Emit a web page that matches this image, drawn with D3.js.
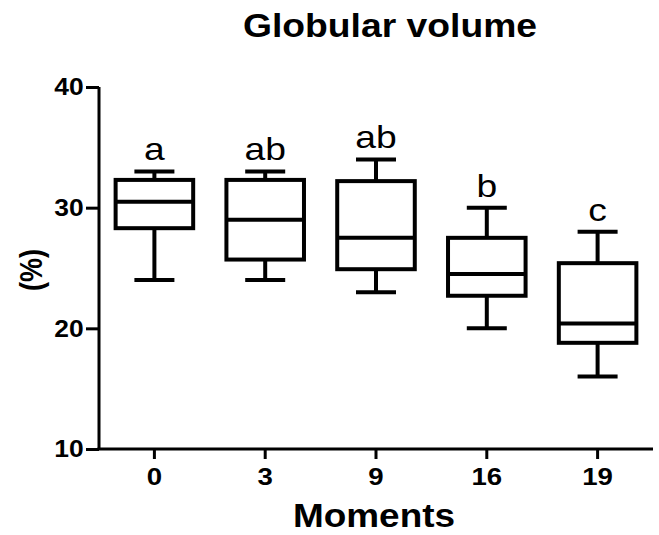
<!DOCTYPE html>
<html><head><meta charset="utf-8">
<script src="https://cdn.jsdelivr.net/npm/d3@7"></script>
<style>body{margin:0;background:#fff}svg{display:block}text{font-family:"Liberation Sans",Arial,sans-serif;fill:#000}</style>
</head><body><svg id="c" width="659" height="535"></svg>
<script>
const categories = ["0","3","9","16","19"];
const mins    = [24, 24, 23, 20, 16];
const q1s     = [28.3, 25.7, 24.9, 22.7, 18.8];
const medians = [30.5, 29.0, 27.5, 24.5, 20.4];
const q3s     = [32.3, 32.3, 32.2, 27.5, 25.4];
const maxs    = [33, 33, 34, 30, 28];
const letters = ["a","ab","ab","b","c"];
const yTicks  = [10, 20, 30, 40];

const svg = d3.select("#c");
const W = 659, H = 535;
const m = {left: 99, right: 6, top: 87, bottom: 86};
const x = d3.scaleBand().domain(categories).range([m.left, W - m.right]);
const y = d3.scaleLinear().domain([10, 40]).range([H - m.bottom, m.top]);

const data = categories.map((c, i) => ({c, min: mins[i], q1: q1s[i], med: medians[i], q3: q3s[i], max: maxs[i], l: letters[i]}));

// axes
const yAxis = svg.append("g").attr("transform", `translate(${m.left},0)`)
  .call(d3.axisLeft(y).tickValues(yTicks).tickSize(13).tickPadding(3).tickSizeOuter(0));
const xAxis = svg.append("g").attr("transform", `translate(0,${H - m.bottom})`)
  .call(d3.axisBottom(x).tickSize(10).tickPadding(8).tickSizeOuter(0));
[yAxis, xAxis].forEach(g => {
  g.select(".domain").attr("stroke", "#000").attr("stroke-width", 3);
  g.selectAll(".tick line").attr("stroke", "#000").attr("stroke-width", 3);
  g.selectAll(".tick text").attr("font-size", 24).attr("font-weight", "bold")
    .attr("font-family", '"Liberation Sans",Arial,sans-serif').attr("fill", "#000");
});
xAxis.select(".domain").attr("d", `M${m.left - 1.5},0H${W - m.right}`);
yAxis.select(".domain").attr("d", `M0,${H - m.bottom}V${m.top}`);
xAxis.selectAll(".tick text").attr("y", 36).attr("dy", null).attr("transform", "scale(1.15,1)");
yAxis.selectAll(".tick text").attr("x", -14).attr("transform", "scale(1.1,1)");

// boxes
const bw = x.bandwidth() * 0.7, cw = 40;
const g = svg.append("g").attr("stroke", "#000").attr("stroke-width", 4).attr("fill", "none");
data.forEach(d => {
  const cx = x(d.c) + x.bandwidth() / 2;
  g.append("line").attr("x1", cx).attr("x2", cx).attr("y1", y(d.max)).attr("y2", y(d.q3));
  g.append("line").attr("x1", cx).attr("x2", cx).attr("y1", y(d.q1)).attr("y2", y(d.min));
  g.append("line").attr("x1", cx - cw/2).attr("x2", cx + cw/2).attr("y1", y(d.max)).attr("y2", y(d.max));
  g.append("line").attr("x1", cx - cw/2).attr("x2", cx + cw/2).attr("y1", y(d.min)).attr("y2", y(d.min));
  g.append("rect").attr("x", cx - bw/2).attr("y", y(d.q3)).attr("width", bw).attr("height", y(d.q1) - y(d.q3));
  g.append("line").attr("x1", cx - bw/2).attr("x2", cx + bw/2).attr("y1", y(d.med)).attr("y2", y(d.med));
  svg.append("text").attr("transform", `translate(${cx},${y(d.max) - 11}) scale(1.2,1)`)
    .attr("text-anchor", "middle").attr("font-size", 31).text(d.l);
});

// titles
svg.append("text").attr("x", 390).attr("y", 37).attr("text-anchor", "middle")
  .attr("font-size", 34).attr("font-weight", "bold")
  .attr("textLength", 294).attr("lengthAdjust", "spacingAndGlyphs").text("Globular volume");
svg.append("text").attr("x", 374).attr("y", 527).attr("text-anchor", "middle")
  .attr("font-size", 34).attr("font-weight", "bold")
  .attr("textLength", 162).attr("lengthAdjust", "spacingAndGlyphs").text("Moments");
svg.append("text").attr("transform", "translate(42,270) rotate(-90) scale(1,1.15)").attr("text-anchor", "middle")
  .attr("font-size", 27).attr("font-weight", "bold").text("(%)");
</script></body></html>
